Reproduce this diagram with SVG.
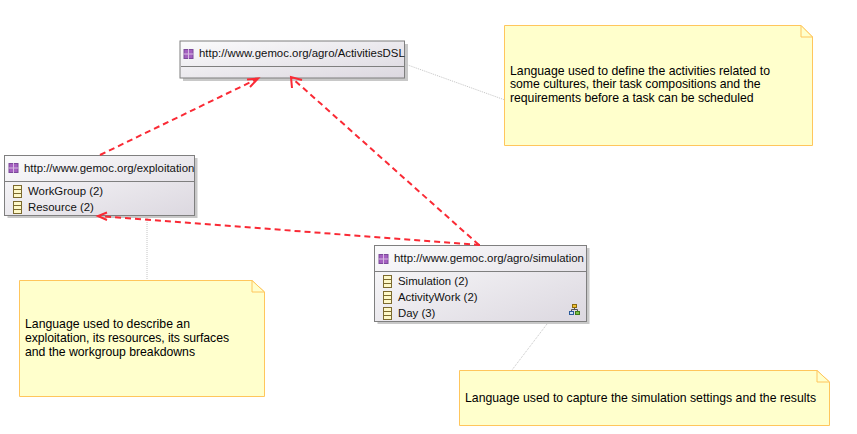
<svg xmlns="http://www.w3.org/2000/svg" width="857" height="434" viewBox="0 0 857 434">
<style>
text{font-family:"Liberation Sans",Arial,sans-serif;font-size:11.4px;fill:#111}
.nt{font-size:12.25px;fill:#000}
.box{fill:url(#g);stroke:#7f7f7f;stroke-width:1}
.sh{fill:#c8c8c8}
.sep{stroke:#7f7f7f;stroke-width:1}
.note{fill:#ffffcc;stroke:#ffc65c;stroke-width:1}
.dep{fill:none;stroke:#fa2a35;stroke-width:2;stroke-dasharray:6 4}
.head{fill:none;stroke:#fa2a35;stroke-width:2}
.link{stroke:#c4c4c4;stroke-width:1;stroke-dasharray:1 1;fill:none}
</style>
<defs>
<linearGradient id="g" x1="0" y1="0" x2="1" y2="1"><stop offset="0" stop-color="#fbfbfc"/><stop offset="1" stop-color="#dcd8e0"/></linearGradient>
<g id="pkg"><rect x="0.5" y="0.5" width="9" height="9" fill="#a45fc0" stroke="#7b4a9a"/><path d="M5 0V10M0 5H10" stroke="#d7bde2" stroke-width="1"/></g>
<g id="cls"><rect x="0.5" y="0.5" width="8" height="12" fill="#fdf8c8" stroke="#7c6a2e"/><path d="M1 4.500H8M1 8.500H8" stroke="#7c6a2e"/></g>
</defs>
<g id="node-activities">
<rect class="sh" x="183" y="44" width="225" height="37"/>
<rect class="box" x="180" y="41" width="224.500" height="37"/>
<path class="sep" d="M181 66.500H404"/>
<use href="#pkg" x="183.500" y="49"/>
<text x="199" y="57">http://www.gemoc.org/agro/ActivitiesDSL</text>
</g>
<g id="node-exploitation">
<rect class="sh" x="7.500" y="158" width="190" height="60"/>
<rect class="box" x="4.500" y="155.500" width="190" height="60"/>
<path class="sep" d="M5 181.500H194"/>
<use href="#pkg" x="8.500" y="163"/>
<text x="24" y="172">http://www.gemoc.org/exploitation</text>
<use href="#cls" x="13" y="185"/><text x="28" y="195">WorkGroup (2)</text>
<use href="#cls" x="13" y="201"/><text x="28" y="211">Resource (2)</text>
</g>
<g id="node-simulation">
<rect class="sh" x="377.500" y="248" width="212" height="76"/>
<rect class="box" x="374.500" y="245.500" width="212" height="76"/>
<path class="sep" d="M375 271.500H586"/>
<use href="#pkg" x="378.500" y="254"/>
<text x="394" y="262">http://www.gemoc.org/agro/simulation</text>
<use href="#cls" x="383" y="275"/><text x="398" y="285">Simulation (2)</text>
<use href="#cls" x="383" y="291"/><text x="398" y="301">ActivityWork (2)</text>
<use href="#cls" x="383" y="307"/><text x="398" y="317">Day (3)</text>
<g id="layout-icon"><path d="M574.500 308V310M571.500 311V309.500H577.500V311" fill="none" stroke="#555"/><rect x="572.500" y="304.500" width="4" height="3" fill="#f0c030" stroke="#8a6a10"/><rect x="569.500" y="311.500" width="4" height="3" fill="#cfe2f5" stroke="#2a5a9a"/><rect x="575.500" y="311.500" width="4" height="3" fill="#7ac143" stroke="#3f7a1a"/></g>
</g>
<g id="note-activities">
<path class="note" d="M504.500 25.500H801L812.500 37V145.500H504.500Z"/><path class="note" d="M801 25.500V37H812.500Z"/>
<text class="nt" x="510" y="75" textLength="260">Language used to define the activities related to</text>
<text class="nt" x="510" y="88" textLength="250.500">some cultures, their task compositions and the</text>
<text class="nt" x="510" y="102" textLength="243.500">requirements before a task can be scheduled</text>
</g>
<g id="note-exploitation">
<path class="note" d="M19.500 280.500H252L264.500 292V396.500H19.500Z"/><path class="note" d="M252 280.500V292H264.500Z"/>
<text class="nt" x="25" y="328" textLength="165">Language used to describe an</text>
<text class="nt" x="25" y="342" textLength="204">exploitation, its resources, its surfaces</text>
<text class="nt" x="25" y="356" textLength="170">and the workgroup breakdowns</text>
</g>
<g id="note-simulation">
<path class="note" d="M459.500 370.500H817L829.500 382V425.500H459.500Z"/><path class="note" d="M817 370.500V382H829.500Z"/>
<text class="nt" x="465" y="402" textLength="351">Language used to capture the simulation settings and the results</text>
</g>
<g id="connectors">
<path class="link" d="M405 64L505 100"/>
<path class="link" d="M147 218V280"/>
<path class="link" d="M547 324L512 370"/>
<path class="dep" d="M100 155L257 79"/><path class="head" d="M247 79.500L258 78.500L250 87"/>
<path class="dep" d="M479 245L292 78"/><path class="head" d="M292 88L291 77L302 80"/>
<path class="dep" d="M480 245L99 216"/><path class="head" d="M107 212.500L98 216L107 220"/>
</g>
</svg>
